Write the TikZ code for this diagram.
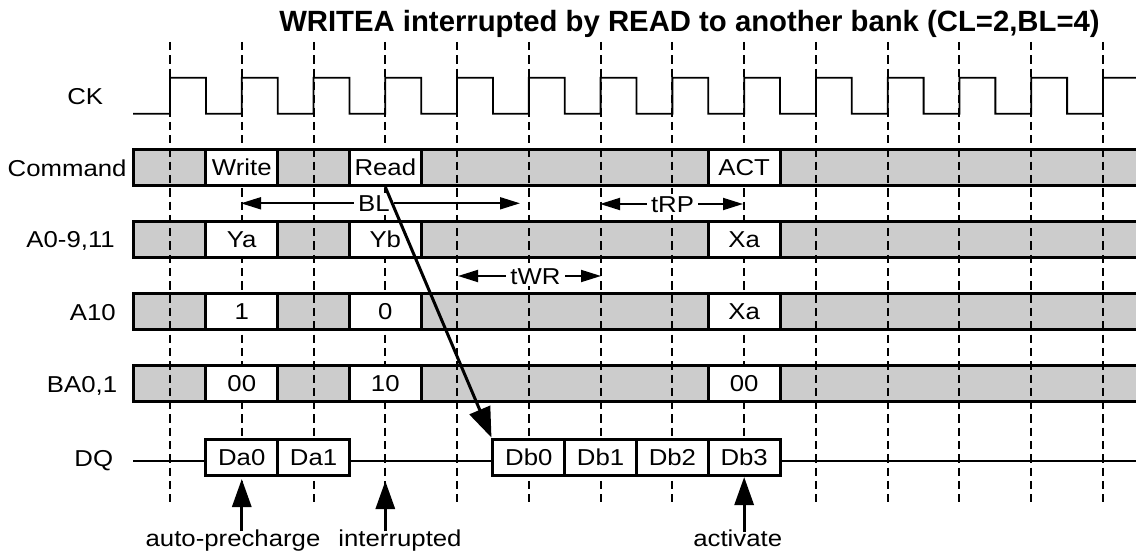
\documentclass[tikz,border=0pt]{standalone}
\usepackage{fontspec}
\setmainfont{Liberation Sans}
\newfontfamily\labfont[FakeStretch=1.12]{Liberation Sans}
\usetikzlibrary{arrows.meta}
\definecolor{busgray}{RGB}{204,204,204}
\begin{document}
\begin{tikzpicture}[x=1pt,y=-1pt,
  lab/.style={font=\labfont\fontsize{23}{24}\selectfont, inner sep=0pt, text height=16.5pt, text depth=0pt},
  wbox/.style={lab, draw, fill=white, line width=3pt, minimum width=71.77pt, minimum height=36pt},
  dqbox/.style={wbox, minimum height=36.5pt},
  sig/.style={lab, anchor=base east},
  note/.style={font=\labfont\fontsize{23}{24}\selectfont, inner sep=0pt, anchor=base},
  clk/.style={line width=1.8pt, line join=miter},
  gridl/.style={line width=2pt, dash pattern=on 8.3pt off 5pt},
  busline/.style={line width=3pt, line join=miter},
  dimarr/.style={line width=1.8pt, {Triangle[length=20pt,width=12pt]}-{Triangle[length=20pt,width=12pt]}},
  dimlab/.style={lab, fill=white, inner xsep=4pt, inner ysep=2pt},
  bigarr/.style={line width=3pt, -{Triangle[length=30pt,width=22pt]}},
  uparr/.style={line width=3pt, -{Triangle[length=28pt,width=19pt]}}
]
\useasboundingbox (0,0) rectangle (1136,556);

% bus row fills
\foreach \t in {149.5,221.5,293.5,365.5} {
  \fill[busgray] (133,\t) rectangle (1136,\t+36);
}

% clock grid
\foreach \k in {0,...,13} {
  \draw[gridl] ({170+71.77*\k},42) -- ({170+71.77*\k},502);
}

% clock
\draw[clk] (133,113.7) -- (170,113.7)
  \foreach \k in {0,...,12} {
    -- ({170+71.77*\k},77.7) -- ({205.9+71.77*\k},77.7)
    -- ({205.9+71.77*\k},113.7) -- ({241.77+71.77*\k},113.7)
  } -- (1103.0,77.7) -- (1136,77.7);

% DQ line
\coordinate (dqL) at (133,460.5);
\coordinate (dqR) at (1136,460.5);
\draw[line width=2pt] (dqL) -- (dqR);

% Command row
\node[wbox] (cW) at (241.77,167.5) {Write};
\node[wbox] (cR) at (385.31,167.5) {Read};
\node[wbox] (cA) at (744.16,167.5) {ACT};
% A0-9,11
\node[wbox] (aYa) at (241.77,239.5) {Ya};
\node[wbox] (aYb) at (385.31,239.5) {Yb};
\node[wbox] (aXa) at (744.16,239.5) {Xa};
% A10
\node[wbox] (tA1) at (241.77,311.5) {1};
\node[wbox] (tA0) at (385.31,311.5) {0};
\node[wbox] (tAX) at (744.16,311.5) {Xa};
% BA0,1
\node[wbox] (bA00) at (241.77,383.5) {00};
\node[wbox] (bA10) at (385.31,383.5) {10};
\node[wbox] (bAX) at (744.16,383.5) {00};

% row outlines
\foreach \t in {149.5,221.5,293.5,365.5} {
  \draw[busline] (1136,\t) -- (133,\t) -- (133,\t+36) -- (1136,\t+36);
}

% DQ boxes
\node[dqbox] (dA0) at (241.77,457.3) {Da0};
\node[dqbox] (dA1) at (313.54,457.3) {Da1};
\node[dqbox] (dB0) at (528.85,457.3) {Db0};
\node[dqbox] (dB1) at (600.62,457.3) {Db1};
\node[dqbox] (dB2) at (672.39,457.3) {Db2};
\node[dqbox] (dB3) at (744.16,457.3) {Db3};

% dimension arrows
\coordinate (blL) at (241,203.3);
\coordinate (blR) at (520,203.3);
\draw[dimarr] (blL) -- (blR);
\node[dimlab] (bl) at (374,203.3) {BL};

\coordinate (rpL) at (600,204);
\coordinate (rpR) at (743,204);
\draw[dimarr] (rpL) -- (rpR);
\node[dimlab] (rp) at (672.5,204) {tRP};

\coordinate (wrL) at (458,276);
\coordinate (wrR) at (601,276);
\draw[dimarr] (wrL) -- (wrR);
\node[dimlab] (wr) at (535.5,276) {tWR};

% diagonal arrow Read -> Db0
\draw[bigarr] (cR.south) -- (dB0.north west);

% bottom markers
\coordinate (m1s) at (241.77,531);
\coordinate (m1t) at (241.77,479);
\coordinate (m2s) at (385.31,531);
\coordinate (m2t) at (385.31,481);
\coordinate (m3s) at (744.16,532);
\coordinate (m3t) at (744.16,477);
\draw[uparr] (m1s) -- (m1t);
\draw[uparr] (m2s) -- (m2t);
\draw[uparr] (m3s) -- (m3t);
\node[note] (n1) at (233,546.7) {auto-precharge};
\node[note] (n2) at (400,546.7) {interrupted};
\node[note] (n3) at (737.7,546.7) {activate};

% signal names
\node[sig] (lCK) at (103.3,105) {CK};
\node[sig] (lCmd) at (126.7,176.5) {Command};
\node[sig] (lA) at (115,248) {A0-9,11};
\node[sig] (lA10) at (116,320) {A10};
\node[sig] (lBA) at (117.3,392) {BA0,1};
\node[sig] (lDQ) at (113.3,466) {DQ};

% title
\node[anchor=base, font=\bfseries\fontsize{29.3}{32}\selectfont, inner sep=0pt] (title) at (689.5,31.7) {WRITEA interrupted by READ to another bank (CL=2,BL=4)};
\end{tikzpicture}
\end{document}
